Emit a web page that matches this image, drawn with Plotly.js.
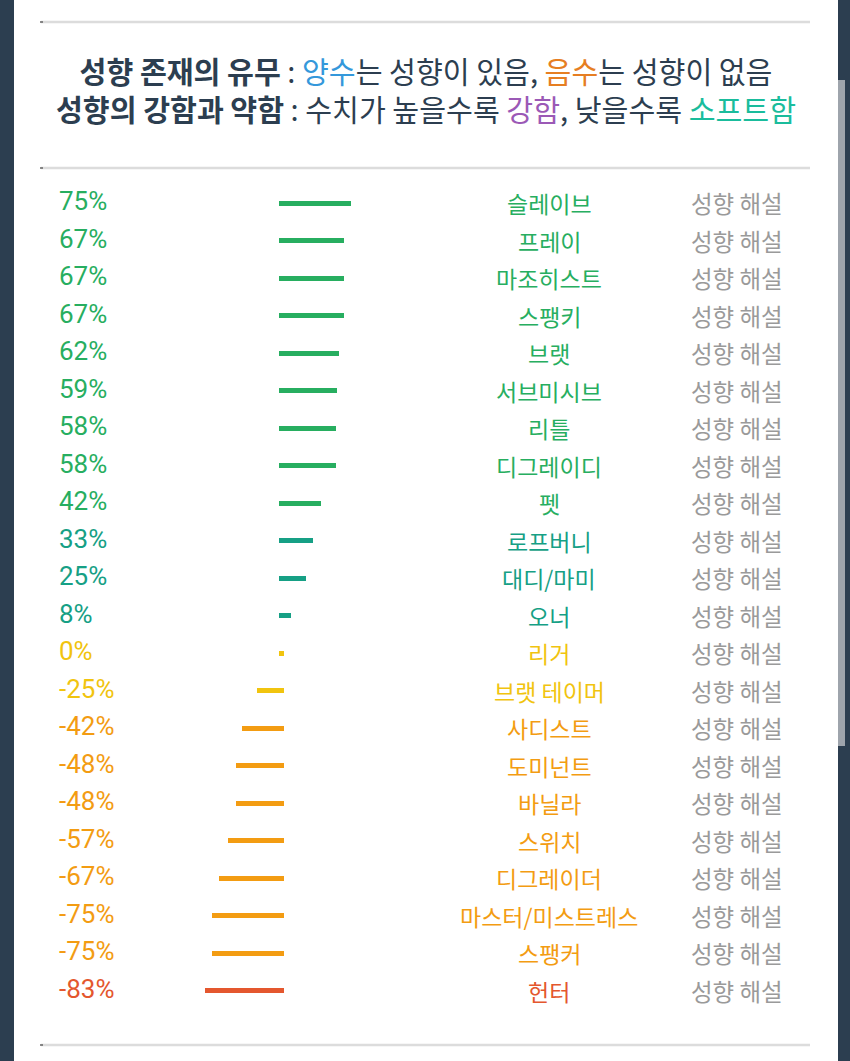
<!DOCTYPE html>
<html>
<head>
<meta charset="utf-8">
<script src="https://cdn.plot.ly/plotly-3.0.1.min.js"></script>
<style>
  html, body { margin: 0; padding: 0; background: #2c3e50; }
  #chart { width: 850px; height: 1061px; }
</style>
</head>
<body>
<div id="chart"></div>
<script>
// ---- data ----
const names = ["슬레이브", "프레이", "마조히스트", "스팽키", "브랫", "서브미시브", "리틀", "디그레이디",
  "펫", "로프버니", "대디/마미", "오너", "리거", "브랫 테이머", "사디스트", "도미넌트", "바닐라",
  "스위치", "디그레이더", "마스터/미스트레스", "스팽커", "헌터"];
const values = [75, 67, 67, 67, 62, 59, 58, 58, 42, 33, 25, 8, 0, -25, -42, -48, -48, -57, -67, -75, -75, -83];
const linkLabel = "성향 해설";
const headerLine1 = "<b>성향 존재의 유무</b> : <span style='color:#3498db'>양수</span>는 성향이 있음, <span style='color:#e67e22'>음수</span>는 성향이 없음";
const headerLine2 = "<b>성향의 강함과 약함</b> : 수치가 높을수록 <span style='color:#9b59b6'>강함</span>, 낮을수록 <span style='color:#1abc9c'>소프트함</span>";

// ---- layout geometry ----
const W = 850, H = 1061;
const ZERO_PX = 279, PX_PER_UNIT = 0.89, MIN_PX = 5;
const ROW0 = 203, ROW_STEP = 37.52;
const PAD = MIN_PX / PX_PER_UNIT;
const px = x => x / W;
const py = y => 1 - y / H;

function colorFor(v) {
  if (v >= 40) return "#27ae60";
  if (v > 0) return "#16a085";
  if (v > -30) return "#f1c40f";
  if (v > -80) return "#f39c12";
  return "#e4572e";
}
const colors = values.map(colorFor);

const FONT = "Roboto, 'Noto Sans CJK KR', sans-serif";
const KFONT = "'Noto Sans CJK KR', sans-serif";

const barTrace = {
  type: "bar",
  orientation: "h",
  y: names,
  x: values.map(v => Math.abs(v) + PAD),
  base: values.map(v => Math.min(v, 0)),
  width: MIN_PX / ROW_STEP,
  marker: { color: colors, line: { width: 0 } },
  hoverinfo: "skip"
};

const annotations = [];
annotations.push({
  xref: "paper", yref: "paper", x: px(426), y: py(88.5), xanchor: "center", yanchor: "middle",
  text: headerLine1 + "<br>" + headerLine2, align: "center", showarrow: false,
  font: { family: KFONT, size: 29.2, color: "#2c3e50" }
});
names.forEach((n, i) => {
  const v = values[i];
  annotations.push({
    xref: "paper", yref: "y", x: px(57), y: n, xanchor: "left", yanchor: "middle", yshift: 2,
    text: v + "%", showarrow: false, font: { family: FONT, size: 26, color: colors[i] }
  });
  annotations.push({
    xref: "paper", yref: "y", x: px(549), y: n, xanchor: "center", yanchor: "middle", yshift: 0,
    text: n, showarrow: false, font: { family: KFONT, size: 23, color: colors[i] }
  });
  annotations.push({
    xref: "paper", yref: "y", x: px(689), y: n, xanchor: "left", yanchor: "middle", yshift: 0,
    text: linkLabel, showarrow: false, font: { family: KFONT, size: 23.5, color: "#9a9a9a" }
  });
});

const shapes = [
  // white card
  { type: "rect", xref: "paper", yref: "paper", x0: px(14), x1: px(838), y0: 0, y1: 1,
    fillcolor: "#ffffff", line: { width: 0 }, layer: "below" },
  // scrollbar thumb
  { type: "rect", xref: "paper", yref: "paper", x0: px(838), x1: px(845), y0: py(746), y1: py(80),
    fillcolor: "#9ea4ac", line: { width: 0 }, layer: "below" }
];
[22, 168, 1045].forEach(y => {
  shapes.push({ type: "line", xref: "paper", yref: "paper", x0: px(41), x1: px(810), y0: py(y), y1: py(y),
    line: { color: "#dcdcdc", width: 2.5 }, layer: "below" });
  shapes.push({ type: "line", xref: "paper", yref: "paper", x0: px(40), x1: px(43), y0: py(y), y1: py(y),
    line: { color: "#666666", width: 1.5 }, layer: "below" });
});

const layout = {
  width: W, height: H,
  margin: { l: 0, r: 0, t: 0, b: 0, pad: 0 },
  paper_bgcolor: "#2c3e50",
  plot_bgcolor: "rgba(0,0,0,0)",
  showlegend: false,
  bargap: 0,
  xaxis: { range: [-ZERO_PX / PX_PER_UNIT, (W - ZERO_PX) / PX_PER_UNIT], visible: false, fixedrange: true },
  yaxis: { type: "category", categoryorder: "array", categoryarray: names,
    range: [(H - ROW0) / ROW_STEP, -ROW0 / ROW_STEP], visible: false, fixedrange: true },
  shapes: shapes,
  annotations: annotations
};

Plotly.newPlot("chart", [barTrace], layout, { displayModeBar: false, staticPlot: true });
</script>
</body>
</html>
